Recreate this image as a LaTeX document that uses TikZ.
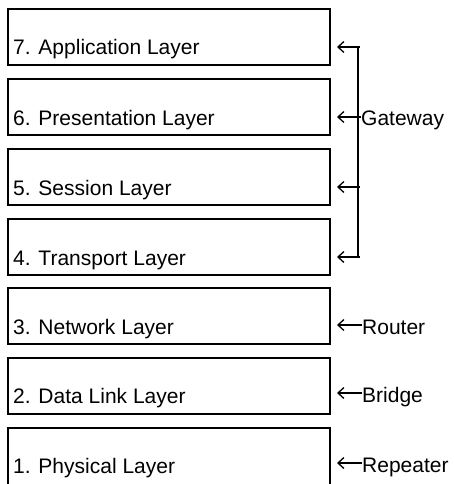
\documentclass[tikz,border=0pt]{standalone}
\usepackage{fontspec}
\setmainfont{Liberation Sans}
\usetikzlibrary{arrows.meta}
\begin{document}
\begin{tikzpicture}[x=1pt,y=-1pt,
  box/.style={draw, line width=1.4pt, minimum width=322pt, minimum height=56pt, inner sep=0pt},
  lbl/.style={font=\fontsize{21}{25}\selectfont, inner sep=0pt, anchor=base west},
  arr/.style={line width=1.3pt, -{Straight Barb[length=6pt,width=11pt]}},
  brk/.style={line width=1.3pt}]
\useasboundingbox (0,0) rectangle (453,484);
% layer boxes
\node[box] (b7) at (169,37) {};
\node[box] (b6) at (169,107) {};
\node[box] (b5) at (169,177) {};
\node[box] (b4) at (169,247) {};
\node[box] (b3) at (169,316) {};
\node[box] (b2) at (169,386) {};
\node[box, minimum height=62pt] (b1) at (169,459) {};
% layer texts
\node[lbl] (t7) at (13,55) {7. Application Layer};
\node[lbl] (t6) at (13,125) {6. Presentation Layer};
\node[lbl] (t5) at (13,195) {5. Session Layer};
\node[lbl] (t4) at (13,265) {4. Transport Layer};
\node[lbl] (t3) at (13,334) {3. Network Layer};
\node[lbl] (t2) at (13,403) {2. Data Link Layer};
\node[lbl] (t1) at (13,473) {1. Physical Layer};
% arrow tips
\coordinate (a7) at (337,47);
\coordinate (a6) at (337,117);
\coordinate (a5) at (337,187);
\coordinate (a4) at (337,257);
\coordinate (a3) at (337,325);
\coordinate (a2) at (337,393);
\coordinate (a1) at (337,463);
% gateway bracket
\coordinate (g7) at (360,47);
\coordinate (g5) at (360,187);
\coordinate (g4) at (360,257);
\coordinate (v7) at (358,46.35);
\coordinate (v4) at (358,257.65);
\draw[brk] (v7) -- (v4);
\node[lbl] (gw) at (361,125.5) {Gateway};
\draw[arr] (g7) -- (a7);
\draw[arr] (gw.west |- a6) -- (a6);
\draw[arr] (g5) -- (a5);
\draw[arr] (g4) -- (a4);
% devices
\node[lbl] (rt) at (362,334) {Router};
\node[lbl] (br) at (362,402) {Bridge};
\node[lbl] (rp) at (362,472) {Repeater};
\draw[arr] (rt.west |- a3) -- (a3);
\draw[arr] (br.west |- a2) -- (a2);
\draw[arr] (rp.west |- a1) -- (a1);
\end{tikzpicture}
\end{document}
